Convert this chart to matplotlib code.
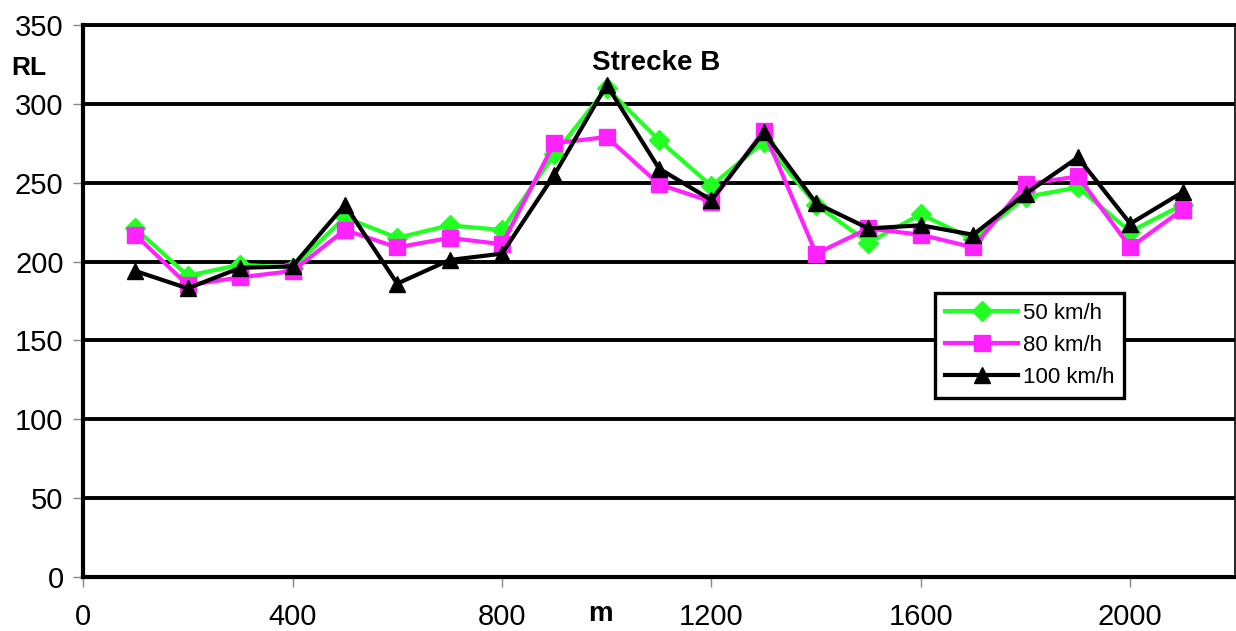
import matplotlib.pyplot as plt

plt.rcParams['font.family'] = ['Liberation Sans', 'DejaVu Sans']

meter = [100, 200, 300, 400, 500, 600, 700, 800, 900, 1000, 1100,
         1200, 1300, 1400, 1500, 1600, 1700, 1800, 1900, 2000, 2100]
rl_50 = [221, 191, 198, 196, 228, 215, 223, 220, 268, 310, 277,
         248, 276, 236, 212, 230, 214, 241, 247, 219, 236]
rl_80 = [217, 185, 190, 194, 220, 209, 215, 211, 275, 279, 249,
         238, 283, 205, 221, 217, 209, 249, 254, 209, 233]
rl_100 = [194, 183, 196, 197, 236, 186, 201, 205, 255, 312, 259,
          239, 282, 237, 221, 223, 217, 243, 266, 224, 244]

fig = plt.figure(figsize=(12.36, 6.31), dpi=100)
ax = fig.add_axes([0.0672, 0.0856, 0.932, 0.8748])

ax.plot(meter, rl_50, color='#22ff22', lw=3, marker='D', ms=10, label='50 km/h')
ax.plot(meter, rl_80, color='#ff22ff', lw=3, marker='s', ms=11, label='80 km/h')
ax.plot(meter, rl_100, color='black', lw=3, marker='^', ms=12, label='100 km/h')

ax.set_xlim(0, 2200)
ax.set_ylim(0, 350)
ax.set_xticks([0, 400, 800, 1200, 1600, 2000])
ax.set_yticks(range(0, 351, 50))
ax.grid(axis='y', color='black', lw=2.8)
ax.set_axisbelow(True)

for s in ['left', 'bottom']:
    ax.spines[s].set_linewidth(3)
ax.spines['top'].set_linewidth(2.8)
ax.spines['right'].set_linewidth(1.2)

ax.tick_params(axis='both', labelsize=21, color='#888888', length=7, width=1)
ax.tick_params(axis='x', pad=12)
ax.tick_params(axis='y', pad=7)

fig.text(0.009, 0.892, 'RL', fontsize=19, fontweight='bold', va='center')
fig.text(0.4855, 0.027, 'm', fontsize=20, fontweight='bold', va='center', ha='center')
ax.text(1095, 326, 'Strecke B', fontsize=20, fontweight='bold', ha='center', va='center')

leg = ax.legend(loc='upper left', bbox_to_anchor=(0.7396, 0.5145), fontsize=16,
                fancybox=False, framealpha=1, edgecolor='black',
                handlelength=3.3, handletextpad=0.2, borderpad=0.45,
                labelspacing=0.5, borderaxespad=0)
leg.get_frame().set_linewidth(2.4)

fig.savefig('out.png', dpi=100)
